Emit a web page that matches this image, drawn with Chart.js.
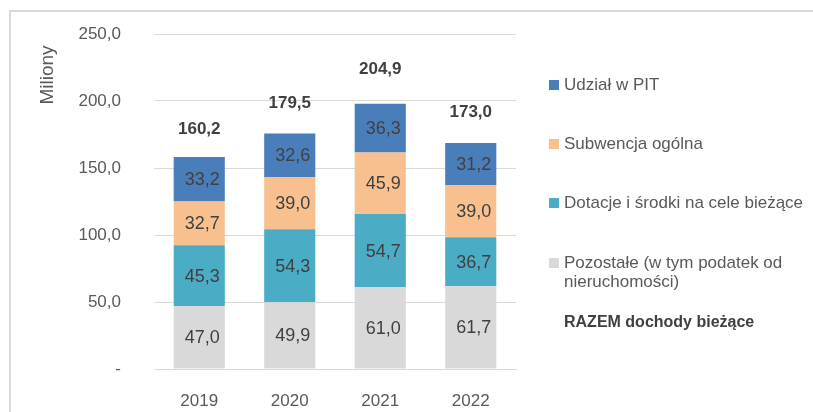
<!DOCTYPE html>
<html lang="pl">
<head>
<meta charset="utf-8">
<script src="https://cdn.jsdelivr.net/npm/chart.js@4/dist/chart.umd.min.js"></script>
<style>
  html, body { margin: 0; padding: 0; background: #fff; }
  #wrap { position: relative; width: 813px; height: 412px; overflow: hidden; }
  #frame { position: absolute; left: 9px; top: 10px; width: 900px; height: 500px; border: 2px solid #d9d9d9; box-sizing: border-box; }
  canvas { position: absolute; left: 0; top: 0; }
</style>
</head>
<body>
<div id="wrap">
  <div id="frame"></div>
  <canvas id="chart" width="813" height="412"></canvas>
</div>
<script>
const years = ["2019", "2020", "2021", "2022"];
const pozostale = [47.0, 49.9, 61.0, 61.7];
const dotacje = [45.3, 54.3, 54.7, 36.7];
const subwencja = [32.7, 39.0, 45.9, 39.0];
const udzialPit = [33.2, 32.6, 36.3, 31.2];
const razem = [160.2, 179.5, 204.9, 173.0];
const yTicks = [0, 50, 100, 150, 200, 250];

const FONT = "'Liberation Sans', Arial, sans-serif";
const fmt = (v) => v.toFixed(1).replace(".", ",");

// labels inside the segments and totals above the bars
const valueLabels = {
  id: "valueLabels",
  afterDatasetsDraw(chart) {
    const ctx = chart.ctx;
    ctx.save();
    ctx.textAlign = "center";
    ctx.textBaseline = "middle";
    chart.data.datasets.forEach((ds, i) => {
      const meta = chart.getDatasetMeta(i);
      meta.data.forEach((el, j) => {
        if (ds.type === "line") {
          ctx.font = "bold 17px " + FONT;
          ctx.fillStyle = "#404040";
          ctx.fillText(fmt(ds.data[j]), el.x, el.y - 25);
        } else {
          ctx.font = "18px " + FONT;
          ctx.fillStyle = "#404040";
          ctx.fillText(fmt(ds.data[j]), el.x + 3, (el.y + el.base) / 2 + 1);
        }
      });
    });
    ctx.restore();
  },
};

// axis title and legend on the right
const sideTexts = {
  id: "sideTexts",
  afterDraw(chart) {
    const ctx = chart.ctx;
    ctx.save();
    ctx.translate(48, 75);
    ctx.rotate(-Math.PI / 2);
    ctx.font = "19px " + FONT;
    ctx.fillStyle = "#595959";
    ctx.textAlign = "center";
    ctx.textBaseline = "middle";
    ctx.fillText("Miliony", 0, 0);
    ctx.restore();

    ctx.save();
    ctx.textBaseline = "middle";
    ctx.textAlign = "left";
    const rows = [
      { ds: 3, y: [85] },
      { ds: 2, y: [144] },
      { ds: 1, y: [203] },
      { ds: 0, y: [263, 282] },
      { ds: 4, y: [323] },
    ];
    rows.forEach((r) => {
      const ds = chart.data.datasets[r.ds];
      const lines = Array.isArray(ds.legendText) ? ds.legendText : [ds.label];
      if (ds.type === "line") {
        ctx.font = "bold 16px " + FONT;
        ctx.fillStyle = "#404040";
      } else {
        ctx.fillStyle = ds.backgroundColor;
        ctx.fillRect(549, r.y[0] - 5, 10, 10);
        ctx.font = "17px " + FONT;
        ctx.fillStyle = "#595959";
      }
      lines.forEach((t, k) => ctx.fillText(t, 564, r.y[k]));
    });
    ctx.restore();
  },
};

new Chart(document.getElementById("chart"), {
  data: {
    labels: years,
    datasets: [
      { type: "bar", label: "Pozostałe (w tym podatek od nieruchomości)", legendText: ["Pozostałe (w tym podatek od", "nieruchomości)"], data: pozostale, backgroundColor: "#d9d9d9" },
      { type: "bar", label: "Dotacje i środki na cele bieżące", data: dotacje, backgroundColor: "#4bacc6" },
      { type: "bar", label: "Subwencja ogólna", data: subwencja, backgroundColor: "#f9c08f" },
      { type: "bar", label: "Udział w PIT", data: udzialPit, backgroundColor: "#4a7ebb" },
      { type: "line", label: "RAZEM dochody bieżące", data: razem, showLine: false, pointRadius: 0, borderColor: "transparent", backgroundColor: "transparent", stack: "total" },
    ],
  },
  options: {
    responsive: false,
    animation: false,
    layout: { padding: { left: 0, top: 34, right: 297, bottom: 0 } },
    datasets: { bar: { barPercentage: 0.565, categoryPercentage: 1 } },
    plugins: { legend: { display: false }, tooltip: { enabled: false } },
    scales: {
      x: {
        stacked: true,
        grid: { display: false },
        border: { color: "#d9d9d9" },
        ticks: { color: "#595959", font: { family: FONT, size: 17 }, padding: 14 },
        afterFit: (s) => { s.height = 43; s.paddingLeft = 0; s.paddingRight = 0; },
      },
      y: {
        stacked: true,
        min: 0,
        max: 250,
        afterBuildTicks: (s) => { s.ticks = yTicks.map((v) => ({ value: v })); },
        grid: { color: "#d9d9d9", drawTicks: false },
        border: { display: false },
        ticks: {
          color: "#595959",
          font: { family: FONT, size: 17 },
          padding: 33,
          callback: (v) => (v === 0 ? "-" : fmt(v)),
        },
        afterFit: (s) => { s.width = 154; s.paddingTop = 0; s.paddingBottom = 0; },
      },
    },
  },
  plugins: [valueLabels, sideTexts],
});
</script>
</body>
</html>
